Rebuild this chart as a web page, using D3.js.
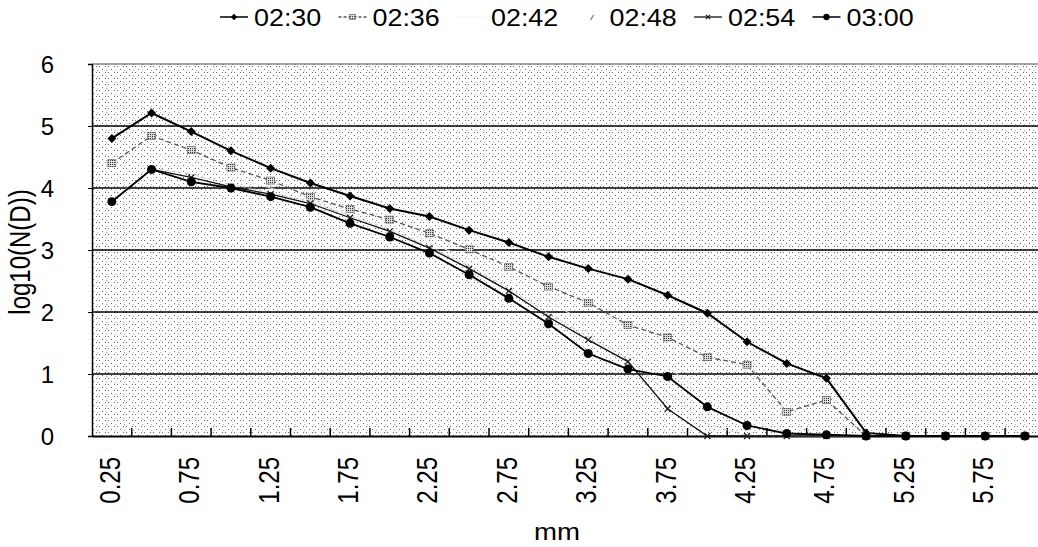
<!DOCTYPE html>
<html>
<head>
<meta charset="utf-8">
<script src="https://cdn.jsdelivr.net/npm/d3@7"></script>
<style>
  body { margin: 0; background: #fff; }
  svg text { font-family: "Liberation Sans", Arial, sans-serif; fill: #000; }
</style>
</head>
<body>
<svg id="chart" width="1038" height="547"></svg>
<script>
// diameter classes (mm)
const sizes = ["0.25", "0.5", "0.75", "1", "1.25", "1.5", "1.75", "2", "2.25", "2.5", "2.75", "3",
               "3.25", "3.5", "3.75", "4", "4.25", "4.5", "4.75", "5", "5.25", "5.5", "5.75", "6"];
const sizeLabels = ["0.25", "0.75", "1.25", "1.75", "2.25", "2.75", "3.25", "3.75", "4.25", "4.75", "5.25", "5.75"];
const yTicks = [0, 1, 2, 3, 4, 5, 6];
const times = ["02:30", "02:36", "02:42", "02:48", "02:54", "03:00"];

// log10(N(D))
const n0230 = [4.80, 5.21, 4.91, 4.60, 4.32, 4.08, 3.87, 3.67, 3.54, 3.32, 3.12, 2.89,
               2.70, 2.53, 2.27, 1.98, 1.52, 1.17, 0.93, 0.05, 0, 0, 0, 0];
const n0236 = [4.40, 4.84, 4.61, 4.33, 4.12, 3.86, 3.66, 3.49, 3.27, 3.01, 2.73, 2.41,
               2.15, 1.79, 1.59, 1.27, 1.15, 0.39, 0.58, 0, 0, 0, 0, 0];
const n0242 = [4.10, 4.55, 4.38, 4.18, 4.00, 3.80, 3.58, 3.38, 3.12, 2.85, 2.52, 2.16,
               1.82, 1.46, 1.12, 0.62, 0.30, 0, 0, 0, 0, 0, 0, 0];
const n0248 = [3.80, 4.32, 4.22, 4.06, 3.93, 3.78, 3.55, 3.33, 3.06, 2.74, 2.38, 1.97,
               1.60, 1.25, 0.70, 0.20, 0, 0, 0, 0, 0, 0, 0, 0];
const n0254 = [3.78, 4.30, 4.17, 4.02, 3.90, 3.75, 3.52, 3.30, 3.03, 2.70, 2.34, 1.92,
               1.55, 1.20, 0.44, 0, 0, 0, 0, 0, 0, 0, 0, 0];
const n0300 = [3.78, 4.30, 4.10, 4.00, 3.86, 3.69, 3.43, 3.21, 2.95, 2.60, 2.22, 1.81,
               1.33, 1.08, 0.96, 0.47, 0.17, 0.04, 0.02, 0, 0, 0, 0, 0];

const series = [
    { name: times[0], values: n0230, stroke: "#000", width: 2, dash: null, marker: "diamond" },
    { name: times[1], values: n0236, stroke: "#555", width: 1.3, dash: "5,3", marker: "square" },
    { name: times[2], values: n0242, stroke: "#f4f4f4", width: 1, dash: null, marker: null },
    { name: times[3], values: n0248, stroke: "#c4c4c4", width: 1, dash: "3,3", marker: null },
    { name: times[4], values: n0254, stroke: "#111", width: 1.3, dash: null, marker: "cross" },
    { name: times[5], values: n0300, stroke: "#000", width: 1.8, dash: null, marker: "dot" }
];

const svg = d3.select("#chart");
const plot = { left: 92, top: 64, bottom: 436, right: 92 + 24 * 39.7 };

// halftone look of the scanned plot area
const defs = svg.append("defs");
const pat = defs.append("pattern")
    .attr("id", "halftone")
    .attr("patternUnits", "userSpaceOnUse")
    .attr("width", 9).attr("height", 6);
pat.append("rect").attr("width", 9).attr("height", 6).attr("fill", "#fff");
[[0, 0], [3, 3], [6, 0], [7, 4]].forEach((p, i) => {
    pat.append("rect").attr("x", p[0]).attr("y", p[1])
        .attr("width", 1).attr("height", 1)
        .attr("fill", i < 3 ? "#666" : "#aaa");
});
const hatch = defs.append("pattern")
    .attr("id", "hatch")
    .attr("patternUnits", "userSpaceOnUse")
    .attr("width", 2).attr("height", 2);
hatch.append("rect").attr("width", 2).attr("height", 2).attr("fill", "#ddd");
hatch.append("rect").attr("width", 1).attr("height", 1).attr("fill", "#333");

const x = d3.scaleBand()
    .domain(sizes)
    .range([plot.left, plot.right])
    .padding(0);
const cx = d => x(d) + x.bandwidth() / 2;

const y = d3.scaleLinear()
    .domain([0, 6])
    .range([plot.bottom, plot.top]);

// plot background
svg.append("rect")
    .attr("x", plot.left).attr("y", plot.top)
    .attr("width", plot.right - plot.left)
    .attr("height", plot.bottom - plot.top)
    .attr("fill", "url(#halftone)");

// gridlines
svg.append("g")
    .selectAll("line")
    .data(yTicks.filter(t => t > 0))
    .enter().append("line")
    .attr("x1", plot.left).attr("x2", plot.right)
    .attr("y1", d => y(d)).attr("y2", d => y(d))
    .attr("stroke", "#000")
    .attr("stroke-width", d => d === 6 ? 0.7 : 1.3);

// y axis
const yAxis = svg.append("g")
    .attr("transform", `translate(${plot.left},0)`)
    .call(d3.axisLeft(y).tickValues(yTicks).tickSize(4).tickFormat(d3.format("d")));
yAxis.select(".domain").attr("stroke", "#000").attr("stroke-width", 1.5);
yAxis.selectAll("text")
    .attr("x", -38)
    .attr("dy", "0.35em")
    .style("font-size", "24px");

// x axis: labels on every other class, ticks on every class boundary
const xAxis = svg.append("g")
    .attr("transform", `translate(0,${plot.bottom})`)
    .call(d3.axisBottom(x).tickValues(sizeLabels.map(s => sizes.find(c => +c === +s))).tickSize(0).tickFormat(d => (+d).toFixed(2)));
xAxis.select(".domain").attr("stroke", "#000").attr("stroke-width", 2);
xAxis.selectAll("text")
    .attr("y", 0).attr("dy", 0)
    .attr("text-anchor", "end")
    .style("font-size", "24px")
    .attr("transform", "translate(8,21) scale(1.25,1) rotate(-90)");

svg.append("g")
    .selectAll("line")
    .data(sizes.slice(1))
    .enter().append("line")
    .attr("x1", d => x(d)).attr("x2", d => x(d))
    .attr("y1", plot.bottom).attr("y2", plot.bottom - 8)
    .attr("stroke", "#000")
    .attr("stroke-width", 1.5);

// axis titles
svg.append("text")
    .attr("transform", `translate(30,252) scale(1.25,1) rotate(-90)`)
    .attr("text-anchor", "middle")
    .style("font-size", "24px")
    .text("log10(N(D))");
svg.append("text")
    .attr("transform", `translate(557,540) scale(1.15,1)`)
    .attr("text-anchor", "middle")
    .style("font-size", "24px")
    .text("mm");

// series lines
const line = d3.line()
    .x((d, i) => cx(sizes[i]))
    .y(d => y(d));

function drawMarker(g, type, px, py, k) {
    const s = k || 1;
    if (type === "diamond") {
        g.append("path")
            .attr("d", `M${px},${py - 4.5 * s}L${px + 4.5 * s},${py}L${px},${py + 4.5 * s}L${px - 4.5 * s},${py}Z`)
            .attr("fill", "#000");
    } else if (type === "square") {
        g.append("rect")
            .attr("x", px - 4 * s).attr("y", py - 3.5 * s)
            .attr("width", 8 * s).attr("height", 7 * s)
            .attr("fill", "url(#hatch)")
            .attr("stroke", "#555").attr("stroke-width", 0.6);
    } else if (type === "cross") {
        g.append("path")
            .attr("d", `M${px - 3 * s},${py - 3 * s}L${px + 3 * s},${py + 3 * s}M${px - 3 * s},${py + 3 * s}L${px + 3 * s},${py - 3 * s}`)
            .attr("stroke", "#222").attr("stroke-width", 1.3);
    } else if (type === "dot") {
        g.append("circle")
            .attr("cx", px).attr("cy", py).attr("r", 4.5 * s)
            .attr("fill", "#000");
    }
}

series.forEach(s => {
    const g = svg.append("g");
    g.append("path")
        .datum(s.values)
        .attr("d", line)
        .attr("fill", "none")
        .attr("stroke", s.stroke)
        .attr("stroke-width", s.width)
        .attr("stroke-dasharray", s.dash);
    if (s.marker) {
        s.values.forEach((v, i) => drawMarker(g, s.marker, cx(sizes[i]), y(v)));
    }
});

// legend
const legend = svg.append("g");
series.forEach((s, i) => {
    const lx = 218 + i * 118.5;
    const ly = 17;
    if (s.name === "02:48") {
        legend.append("line")
            .attr("x1", lx + 17).attr("x2", lx + 20)
            .attr("y1", ly + 3).attr("y2", ly - 2)
            .attr("stroke", "#777").attr("stroke-width", 1.2);
    } else {
        legend.append("line")
            .attr("x1", lx + 2).attr("x2", lx + 30)
            .attr("y1", ly).attr("y2", ly)
            .attr("stroke", s.stroke)
            .attr("stroke-width", Math.min(s.width, 1.5))
            .attr("stroke-dasharray", s.dash ? "3,2" : null);
        if (s.marker) drawMarker(legend, s.marker, lx + 16, ly, 0.7);
    }
    legend.append("text")
        .attr("transform", `translate(${lx + 36},${ly + 9}) scale(1.12,1)`)
        .style("font-size", "24px")
        .text(s.name);
});
</script>
</body>
</html>
